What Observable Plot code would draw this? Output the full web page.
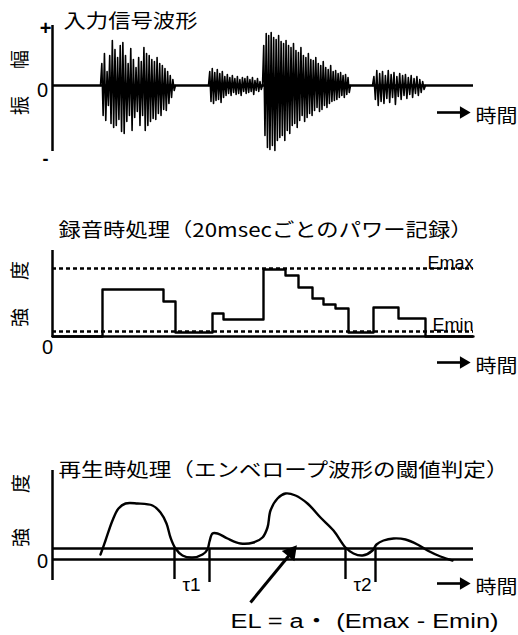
<!DOCTYPE html>
<html><head><meta charset="utf-8">
<script src="https://cdn.jsdelivr.net/npm/d3@7"></script>
<script src="https://cdn.jsdelivr.net/npm/@observablehq/plot@0.6"></script>
<style>
html,body{margin:0;padding:0;background:#fff;}
#chart{width:518px;}
#chart svg{display:block;overflow:visible;}
</style></head><body><div id="chart"></div>
<script>
// ---- text ----
const panelTitles = ["入力信号波形", "録音時処理（20msecごとのパワー記録）", "再生時処理（エンベロープ波形の閾値判定）"];
const amplitudeLabel = ["振", "幅"];
const intensityLabel = ["強", "度"];
const timeLabel = "時間";
const levelLabels = ["Emax", "Emin"];
const tauLabels = ["τ1", "τ2"];
const formula = "EL = a・ (Emax - Emin)";

// ---- panel 1: input waveform (time units, amplitude units) ----
const burstStart = [48, 156, 210, 320];
const burstEnd = [123, 210, 298, 373];
const burst1 = [0, 22,-30, 32,-35, 14,-20, 30,-38, 45,-42, 36,-40, 28,-34, 40,-46, 43,-48, 30,-36, 22,-30, 37,-45, 26,-32, 18,-26, 28,-40, 24,-30, 38,-45, 32,-40, 30,-36, 26,-33, 24,-34, 28,-28, 22,-30, 20,-24, 17,-25, 14,-18, 10,-12, 6,-5, 0];
const burst2 = [0, 14,-16, 17,-18, 13,-15, 16,-14, 12,-17, 14,-12, 9,-10, 11,-8, 8,-10, 10,-7, 7,-9, 9,-8, 6,-10, 8,-6, 7,-8, 9,-7, 6,-6, 8,-9, 5,-5, 7,-6, 4,-4, 0];
const burst3 = [0, 40,-50, 52,-62, 50,-64, 53,-60, 48,-65, 46,-55, 50,-52, 44,-50, 42,-55, 45,-45, 40,-48, 38,-40, 42,-38, 35,-42, 33,-35, 38,-30, 30,-36, 28,-32, 32,-28, 26,-30, 25,-25, 28,-22, 22,-26, 20,-24, 24,-20, 18,-22, 16,-18, 20,-16, 14,-15, 15,-14, 12,-12, 13,-10, 10,-12, 11,-9, 8,-7, 0];
const burst4 = [0, 9,-14, 15,-20, 12,-16, 14,-18, 10,-13, 15,-17, 11,-12, 13,-19, 9,-11, 12,-14, 10,-10, 11,-13, 8,-9, 10,-12, 7,-8, 9,-10, 6,-7, 4,-4, 0];
const bursts = [burst1, burst2, burst3, burst4];

// ---- panel 2: 20 msec power record ----
const stepTime  = [0, 50, 111, 123, 160, 171, 211, 233, 246, 260, 271, 283, 296, 321, 346, 373, 421];
const stepPower = [0, 47, 35, 4, 23, 17, 67, 61, 49, 38, 32, 28, 4, 29, 18, 0, 0];
const Emax = 68;
const Emin = 5;

// ---- panel 3: envelope threshold ----
const envTime  = [48, 53, 60, 66, 73, 85, 100, 108, 114, 118, 123, 130, 140, 150, 155, 157, 160, 165, 175, 188, 201, 210, 215, 218, 225, 233, 243, 255, 268, 281, 293, 301, 310, 320, 324, 331, 341, 353, 365, 375, 388, 400];
const envLevel = [5, 19, 39, 51, 56, 56, 54, 47, 36, 22, 11, 4, 2, 5, 10, 18, 26, 26, 21, 16, 17, 22, 32, 49, 61, 66, 64, 56, 42, 29, 12, 6, 4, 9, 15, 19, 21, 20, 15, 9, 3, -1];
const EL = 11;
const tauTime = [122, 157, 293, 323];

const T = 421;
const FONT = "'Noto Sans CJK JP', sans-serif";
const LATIN = "'Liberation Sans', 'Noto Sans CJK JP', sans-serif";
const SW = 2.5;

const waveRows = bursts.flatMap((b, k) => b.map((a, i) => ({
  burst: k,
  t: burstStart[k] + i * (burstEnd[k] - burstStart[k]) / (b.length - 1),
  a
})));
const stepRows = stepTime.map((t, i) => ({t, p: stepPower[i]}));
const envRows = envTime.map((t, i) => ({t, v: envLevel[i]}));

function base(height, marginTop, marginBottom, ydomain, marks) {
  return Plot.plot({
    width: 518, height, marginLeft: 52, marginRight: 45, marginTop, marginBottom,
    x: {domain: [0, T], axis: null},
    y: {domain: ydomain, axis: null},
    style: {background: "white", fontFamily: FONT, overflow: "visible", color: "black"},
    marks
  });
}
function timeArrow(v) {
  return [
    Plot.ruleY([v], {x1: 385, x2: 412, stroke: "black", strokeWidth: 2.6}),
    Plot.dot([v], {x: 411, y: d => d, symbol: "triangle", r: 4.6, rotate: 90, fill: "black", stroke: "none"}),
    Plot.text([timeLabel], {x: 423, y: v - 4, text: d => d, textAnchor: "start", fontSize: 19, fill: "black"})
  ];
}
function vlabel(chars, x, ys) {
  return chars.map((c, i) => Plot.text([c], {x, y: ys[i], text: d => d, rotate: -90, fontSize: 19, fill: "black"}));
}

// Panel 1
const p1 = base(190, 20, 40, [-65, 65], [
  Plot.ruleX([0], {y1: -66, y2: 60, strokeWidth: SW}),
  Plot.ruleY([0], {x1: 0, x2: T, strokeWidth: SW}),
  Plot.line(waveRows, {x: "t", y: "a", z: "burst", stroke: "black", strokeWidth: 1.6}),
  Plot.text([panelTitles[0]], {x: 11, y: 64, text: d => d, textAnchor: "start", fontSize: 19}),
  Plot.text(["+"], {x: -7, y: 57, text: d => d, fontSize: 20, fontWeight: "bold", fontFamily: LATIN}),
  Plot.text(["-"], {x: -7, y: -74, text: d => d, fontSize: 18, fontWeight: "bold", fontFamily: LATIN}),
  Plot.text(["0"], {x: -10, y: -5, text: d => d, fontSize: 20, fontFamily: LATIN}),
  ...vlabel(amplitudeLabel, -32, [-20, 26]),
  ...timeArrow(-27)
]);

// Panel 2
const p2 = base(230, 46, 84, [0, 100], [
  Plot.ruleX([0], {y1: -1, y2: 86, strokeWidth: SW}),
  Plot.ruleY([0], {x1: 0, x2: T, strokeWidth: SW}),
  Plot.ruleY([Emax, Emin], {x1: 0, x2: T, strokeWidth: 2.4, strokeDasharray: "4,3"}),
  Plot.line(stepRows, {x: "t", y: "p", curve: "step-after", stroke: "black", strokeWidth: 2.4}),
  Plot.text([panelTitles[1]], {x: 6, y: 106, text: d => d, textAnchor: "start", fontSize: 19}),
  Plot.text(levelLabels, {x: [375, 380], y: [Emax + 5, Emin + 6], text: d => d, textAnchor: "start", fontSize: 18, fontFamily: LATIN}),
  Plot.text(["0"], {x: -5, y: -11, text: d => d, fontSize: 20, fontFamily: LATIN}),
  ...vlabel(intensityLabel, -32, [19, 66]),
  ...timeArrow(-26)
]);

// Panel 3
const p3 = base(215, 39, 76, [0, 100], [
  Plot.ruleX([0], {y1: -21, y2: 89, strokeWidth: SW}),
  Plot.ruleY([0, EL], {x1: 0, x2: T, strokeWidth: SW}),
  Plot.line(envRows, {x: "t", y: "v", curve: "catmull-rom", stroke: "black", strokeWidth: 2.4}),
  Plot.ruleX(tauTime, {y1: EL, y2: (d, i) => i % 2 ? -23 : -20, strokeWidth: 2.4}),
  Plot.text(tauLabels, {x: [tauTime[0], tauTime[2]], y: -25, dx: 8, text: d => d, textAnchor: "start", fontSize: 19, fontFamily: LATIN}),
  Plot.link([0], {x1: 198, y1: -43, x2: 239, y2: 7, stroke: "black", strokeWidth: 3}),
  Plot.dot([0], {x: 238.5, y: 7, symbol: "triangle", r: 6, rotate: 39, fill: "black", stroke: "none"}),
  Plot.text([formula], {x: 178, y: -62, text: d => d, textAnchor: "start", fontSize: 20, fontFamily: LATIN}),
  Plot.text([panelTitles[2]], {x: 6, y: 89, text: d => d, textAnchor: "start", fontSize: 19}),
  Plot.text(["0"], {x: -10, y: -2, text: d => d, fontSize: 20, fontFamily: LATIN}),
  ...vlabel(intensityLabel, -31, [22, 76]),
  ...timeArrow(-24)
]);

const fitWidths = new Map([[panelTitles[0], 134], [panelTitles[1], 414], [panelTitles[2], 450], [formula, 268], [timeLabel, 42]]);
const chart = document.getElementById("chart");
for (const svg of [p1, p2, p3]) {
  svg.querySelectorAll("text").forEach(el => {
    const w = fitWidths.get(el.textContent);
    if (w) { el.setAttribute("textLength", w); el.setAttribute("lengthAdjust", "spacingAndGlyphs"); }
  });
  chart.appendChild(svg);
}
</script></body></html>
